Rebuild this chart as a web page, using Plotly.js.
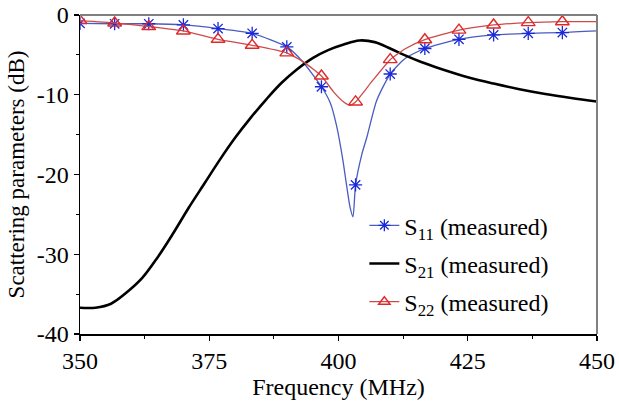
<!DOCTYPE html>
<html>
<head>
<meta charset="utf-8">
<script src="https://cdn.plot.ly/plotly-3.0.1.min.js"></script>
<style>html,body{margin:0;padding:0;background:#fff;font-family:'Liberation Serif';}#chart{width:619px;height:408px;}</style>
</head>
<body>
<div id="chart"></div>
<script>
// Marker positions (MHz)
const markerFreq = [350, 356.7, 363.3, 370, 376.7, 383.3, 390, 396.7, 403.3, 410, 416.7, 423.3, 430, 436.7, 443.3];
const s11Markers = [-1.05, -1.1, -1.1, -1.25, -1.7, -2.3, -4.0, -9.0, -21.3, -7.4, -4.2, -3.05, -2.5, -2.3, -2.2];
const s22Markers = [-0.7, -1.0, -1.45, -2.0, -3.05, -3.8, -4.75, -7.65, -10.9, -5.6, -3.1, -1.9, -1.25, -0.96, -0.84];

// Curves
const s11Freq = [350, 356.7, 363.3, 370, 376.7, 383.3, 390, 393, 396.7, 398.4, 399.6, 400.8, 401.6, 402.2, 402.8, 403.3, 404.5, 405.5, 407.4, 410, 413, 416.7, 423.3, 430, 436.7, 443.3, 450];
const s11Vals = [-1.05, -1.1, -1.1, -1.25, -1.7, -2.3, -4.0, -5.8, -9.0, -11.0, -13.8, -18.0, -21.5, -24.0, -25.3, -21.3, -17.5, -15.3, -10.7, -7.4, -5.4, -4.2, -3.05, -2.5, -2.3, -2.2, -2.0];

const s22Freq = [350, 356.7, 363.3, 370, 376.7, 383.3, 390, 393.5, 396.7, 399, 401, 402.2, 403.3, 406.5, 410, 413, 416.7, 423.3, 430, 436.7, 443.3, 450];
const s22Vals = [-0.7, -1.0, -1.45, -2.0, -3.05, -3.8, -4.75, -6.0, -7.65, -9.6, -10.9, -11.3, -10.9, -8.3, -5.6, -4.2, -3.1, -1.9, -1.25, -0.96, -0.84, -0.84];

const s21Freq = [350, 353, 356, 359, 362, 365, 368, 371, 374, 377, 380, 383, 386, 389, 392, 395, 398, 401, 404, 407, 410, 413, 416, 420, 425, 430, 435, 440, 445, 450];
const s21Vals = [-36.7, -36.7, -36.2, -34.8, -33.0, -30.4, -27.4, -24.2, -21.2, -18.2, -15.4, -12.9, -10.6, -8.5, -6.8, -5.4, -4.4, -3.7, -3.2, -3.4, -4.2, -5.1, -5.9, -6.8, -7.8, -8.6, -9.3, -9.9, -10.4, -10.85];

const seriesNames = ['S<sub>11</sub> (measured)', 'S<sub>21</sub> (measured)', 'S<sub>22</sub> (measured)'];

const blueLine = '#4a5cc0', blueMark = '#1a2ad8';
const redLine = '#cc4a4a', redMark = '#e02828';

function mkFont(size) { return {family: 'Liberation Serif', size: size, color: '#000'}; }

function draw() {
  const traces = [
    {x: s11Freq, y: s11Vals, mode: 'lines', line: {color: blueLine, width: 1.3, shape: 'spline', smoothing: 0.6}, showlegend: false, legendgroup: 'a', hoverinfo: 'skip'},
    {x: markerFreq, y: s11Markers, mode: 'markers', marker: {symbol: 'asterisk-open', size: 11, color: blueMark, line: {color: blueMark, width: 1.3}}, showlegend: false, legendgroup: 'a'},
    {x: [null], y: [null], name: seriesNames[0], mode: 'lines+markers', legendgroup: 'a', line: {color: blueLine, width: 1.3}, marker: {symbol: 'asterisk-open', size: 10, color: blueMark, line: {color: blueMark, width: 1.3}}},
    {x: s21Freq, y: s21Vals, name: seriesNames[1], mode: 'lines', legendgroup: 'b', line: {color: '#000', width: 2.6, shape: 'spline', smoothing: 1}},
    {x: s22Freq, y: s22Vals, mode: 'lines', line: {color: redLine, width: 1.3, shape: 'spline', smoothing: 0.5}, showlegend: false, legendgroup: 'c', hoverinfo: 'skip'},
    {x: markerFreq, y: s22Markers, mode: 'markers', marker: {symbol: 'triangle-up-open', size: 12, color: redMark, line: {color: redMark, width: 1.4}}, showlegend: false, legendgroup: 'c'},
    {x: [null], y: [null], name: seriesNames[2], mode: 'lines+markers', legendgroup: 'c', line: {color: redLine, width: 1.3}, marker: {symbol: 'triangle-up-open', size: 10, color: redMark, line: {color: redMark, width: 1.4}}}
  ];

  const layout = {
    width: 619, height: 408,
    margin: {l: 80, r: 22, t: 15, b: 74},
    paper_bgcolor: '#fff', plot_bgcolor: '#fff',
    font: mkFont(24),
    showlegend: true,
    legend: {x: 0.55, y: 0.41, xanchor: 'left', yanchor: 'top', bgcolor: 'rgba(0,0,0,0)', font: mkFont(24), traceorder: 'grouped', tracegroupgap: 4, itemwidth: 30},
    xaxis: {
      range: [350, 450], tickvals: [350, 375, 400, 425, 450], ticktext: ['350', '375', '400', '425', '450'],
      tickfont: mkFont(24),
      showgrid: false, zeroline: false, showline: true, linecolor: '#000', linewidth: 1.5,
      ticks: 'outside', ticklen: 5, tickwidth: 1.2, tickcolor: '#000',
      minor: {dtick: 12.5, tick0: 350, ticks: 'outside', ticklen: 3, tickcolor: '#000', showgrid: false},
      title: {text: 'Frequency (MHz)', font: mkFont(24), standoff: 4}
    },
    yaxis: {
      range: [-40, 0], tickvals: [-40, -30, -20, -10, 0], ticktext: ['-40', '-30', '-20', '-10', '0'],
      tickfont: mkFont(24),
      showgrid: false, zeroline: false, showline: true, linecolor: '#000', linewidth: 1.5,
      ticks: 'outside', ticklen: 5, tickwidth: 1.2, tickcolor: '#000',
      minor: {dtick: 5, tick0: 0, ticks: 'outside', ticklen: 3, tickcolor: '#000', showgrid: false},
      title: {text: 'Scattering parameters (dB)', font: mkFont(23), standoff: 5}
    },
    shapes: [
      {type: 'line', xref: 'paper', yref: 'paper', x0: 0, x1: 1, y0: 1, y1: 1, line: {color: '#808080', width: 2}},
      {type: 'line', xref: 'paper', yref: 'paper', x0: 1, x1: 1, y0: 0, y1: 1, line: {color: '#808080', width: 2}}
    ]
  };

  Plotly.newPlot('chart', traces, layout, {displayModeBar: false, staticPlot: true});
}

if (document.fonts && document.fonts.load) {
  document.fonts.load("24px 'Liberation Serif'").then(draw, draw);
} else {
  draw();
}
</script>
</body>
</html>
